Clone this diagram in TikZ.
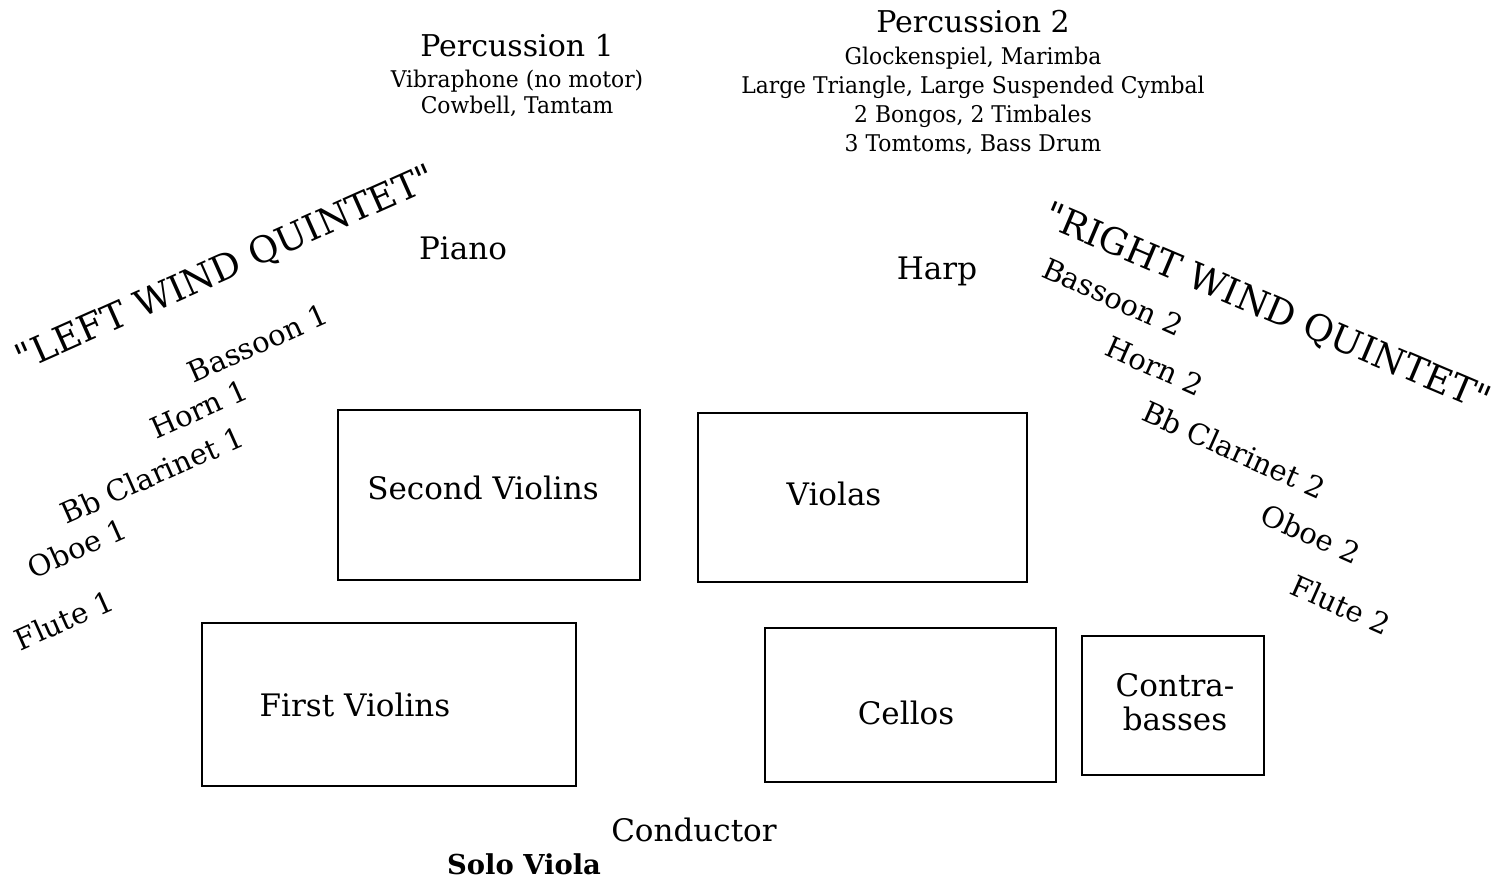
\documentclass[tikz,border=0pt]{standalone}
\usepackage{fontspec}
\setmainfont{DejaVu Serif}
\newfontfamily\condfont[FakeStretch=0.95]{DejaVu Serif}
\begin{document}
\begin{tikzpicture}[x=0.5pt,y=-0.5pt,
  section/.style={draw,line width=1.4pt,inner sep=0pt},
  lbl/.style={font=\fontsize{15.5}{17}\selectfont,inner sep=0pt,align=center},
  wind/.style={font=\fontsize{14.5}{16}\selectfont,inner sep=0pt},
  quint/.style={font=\fontsize{18.3}{21}\selectfont,inner sep=0pt},
  perctitle/.style={font=\fontsize{15}{17}\selectfont,inner sep=0pt},
  percline/.style={font=\condfont\fontsize{11.5}{14.5}\selectfont,inner sep=0pt,align=center}]
\useasboundingbox (0,0) rectangle (1497,879);
% string sections
\draw[section] (338,410) rectangle (640,580);
\draw[section] (698,413) rectangle (1027,582);
\draw[section] (202,623) rectangle (576,786);
\draw[section] (765,628) rectangle (1056,782);
\draw[section] (1082,636) rectangle (1264,775);
\node[lbl] (v2) at (483,488) {Second Violins};
\node[lbl] (va) at (834,494) {Violas};
\node[lbl] (v1) at (355,705) {First Violins};
\node[lbl] (vc) at (906,713) {Cellos};
\node[lbl] (cb) at (1175,702) {Contra-\\basses};
% percussion
\node[perctitle] (p1) at (517,46) {Percussion 1};
\node[percline,font=\condfont\fontsize{11.5}{13}\selectfont] (p1i) at (517,93) {Vibraphone (no motor)\\Cowbell, Tamtam};
\node[perctitle] (p2) at (973,22) {Percussion 2};
\node[percline] (p2i) at (973,101) {Glockenspiel, Marimba\\Large Triangle, Large Suspended Cymbal\\2 Bongos, 2 Timbales\\3 Tomtoms, Bass Drum};
% piano, harp
\node[lbl] (pno) at (463,248) {Piano};
\node[lbl] (hp) at (937,271) {Harp};
% left winds
\node[quint,rotate=24] (lq) at (226,269) {\textquotedbl LEFT WIND QUINTET\textquotedbl};
\node[wind,rotate=24] (bn1) at (258,343) {Bassoon 1};
\node[wind,rotate=24] (hn1) at (199,409) {Horn 1};
\node[wind,rotate=24] (cl1) at (152,475) {Bb Clarinet 1};
\node[wind,rotate=24] (ob1) at (77,548) {Oboe 1};
\node[wind,rotate=24] (fl1) at (64,620) {Flute 1};
% right winds
\node[quint,rotate=-23] (rq) at (1267,309) {\textquotedbl RIGHT WIND QUINTET\textquotedbl};
\node[wind,rotate=-24] (bn2) at (1113,297) {Bassoon 2};
\node[wind,rotate=-24] (hn2) at (1155,366) {Horn 2};
\node[wind,rotate=-24] (cl2) at (1234,450) {Bb Clarinet 2};
\node[wind,rotate=-24] (ob2) at (1311,534) {Oboe 2};
\node[wind,rotate=-24] (fl2) at (1341,605) {Flute 2};
% front
\node[lbl] (cond) at (694,830) {Conductor};
\node[lbl,font=\bfseries\fontsize{13.7}{16}\selectfont] (solo) at (524,864) {Solo Viola};
\end{tikzpicture}
\end{document}
